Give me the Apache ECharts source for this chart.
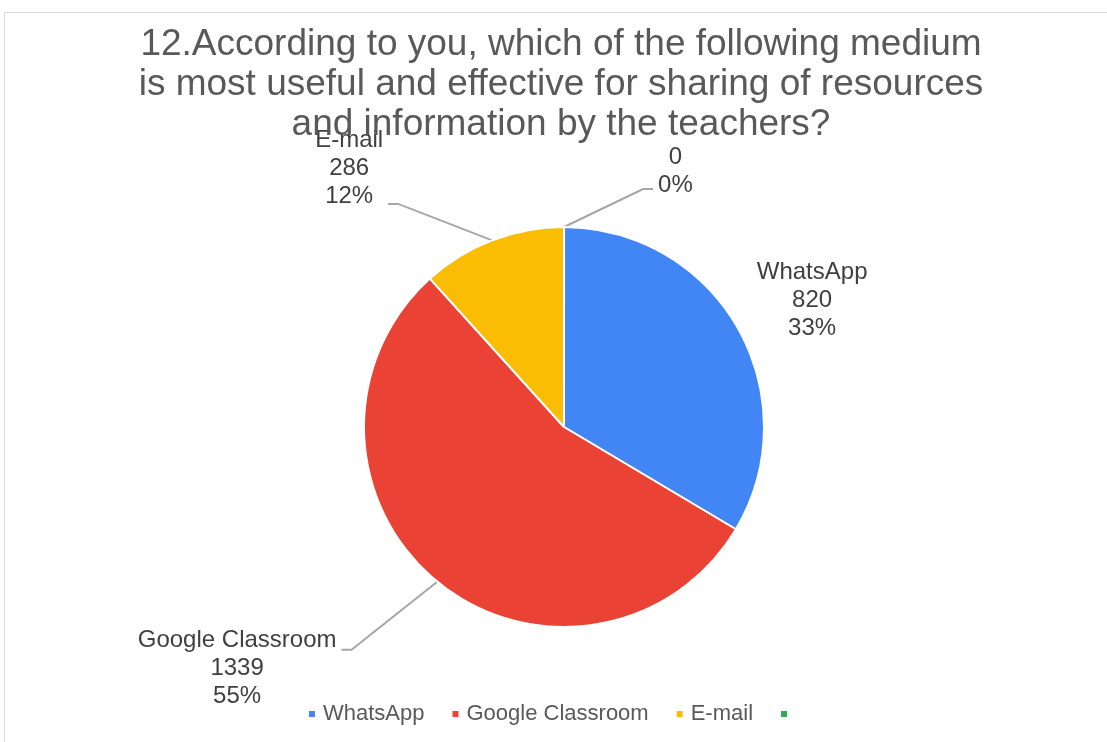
<!DOCTYPE html>
<html>
<head>
<meta charset="utf-8">
<script src="https://cdn.jsdelivr.net/npm/echarts@6/dist/echarts.min.js"></script>
<style>
  html, body { margin: 0; padding: 0; background: #fff; overflow: hidden; }
  #frame { position: absolute; left: 4px; top: 12px; width: 1112px; height: 740px; border: 1px solid #d9d9d9; }
  #mainChart { width: 100%; height: 100%; }
</style>
</head>
<body>
<div id="frame"><div id="mainChart"></div></div>
<script>
var titleText = "12.According to you, which of the following medium\nis most useful and effective for sharing of resources\nand information by the teachers?";
var categories = ["WhatsApp", "Google Classroom", "E-mail", " "];
var counts = [820, 1339, 286, 0];
var colors = ["#4285f4", "#ea4335", "#fbbc04", "#34a853"];

// label leader line tweaks per slice (length, length2, padding, show line)
var labelTweaks = [
  { len: 16, len2: 0, pad: [0, 0, 40, 0], line: false },
  { len: 88, len2: 40, pad: [38, 0, 0, 0], line: true },
  { len: 39, len2: 90, pad: [0, 0, 72, 0], line: true },
  { len: 38, len2: 89, pad: [0, 0, 36, 0], line: true }
];

var chart = echarts.init(document.getElementById("mainChart"));

var pieData = categories.map(function (name, i) {
  var t = labelTweaks[i];
  return {
    name: name,
    value: counts[i],
    itemStyle: { color: colors[i] },
    label: { padding: t.pad },
    labelLine: { show: t.line, length: t.len, length2: t.len2 }
  };
});

var option = {
  animation: false,
  title: {
    text: titleText,
    left: "center",
    top: 7,
    textStyle: {
      fontFamily: "Arial, 'Liberation Sans'",
      fontSize: 37,
      lineHeight: 40,
      fontWeight: "normal",
      color: "#595959"
    }
  },
  legend: {
    left: 297,
    top: 685,
    icon: "rect",
    itemWidth: 8,
    itemHeight: 8,
    itemGap: 26,
    textStyle: {
      fontFamily: "Arial, 'Liberation Sans'",
      fontSize: 22,
      color: "#595959",
      padding: [0, 0, 0, 2]
    }
  },
  series: [
    {
      type: "pie",
      center: [559, 414],
      radius: 200,
      startAngle: 89.99,
      clockwise: true,
      percentPrecision: 0,
      avoidLabelOverlap: false,
      itemStyle: { borderColor: "#fff", borderWidth: 2 },
      label: {
        show: true,
        position: "outside",
        formatter: function (p) {
          var lines = p.name.trim() ? [p.name, p.value, p.percent + "%"] : [p.value, p.percent + "%"];
          return lines.map(function (s) { return "{a|" + s + "}"; }).join("\n");
        },
        rich: {
          a: {
            align: "center",
            fontFamily: "Arial, 'Liberation Sans'",
            fontSize: 24,
            lineHeight: 28,
            color: "#404040"
          }
        }
      },
      labelLine: {
        lineStyle: { color: "#a6a6a6", width: 2 }
      },
      // straight leader from the slice to a short stub next to the label
      labelLayout: function (params) {
        var pts = params.labelLinePoints;
        if (!pts || pts.length < 3) return {};
        var end = pts[2];
        var dir = end[0] < pts[0][0] ? 1 : -1;
        return {
          labelLinePoints: [pts[0], [end[0] + dir * 10, end[1]], end]
        };
      },
      data: pieData
    }
  ]
};

chart.setOption(option);
</script>
</body>
</html>
